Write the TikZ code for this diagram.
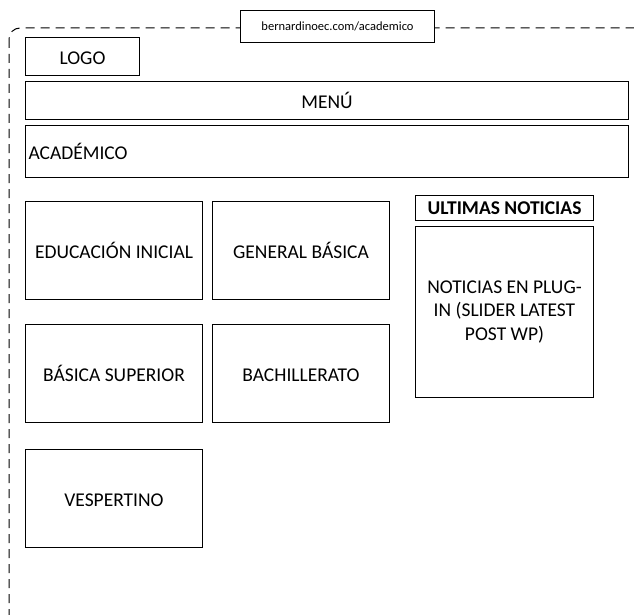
\documentclass[tikz,border=0pt]{standalone}
\usepackage{fontspec}
\setmainfont{Carlito}
\usetikzlibrary{positioning}
\tikzset{
	pagebox/.style ={rectangle, draw=black, line width=1pt, anchor=north west, inner sep=0pt, align=center, fill=white},
	oneline/.style ={text height=16pt, text depth=0pt},
	nivel/.style   ={pagebox, oneline, minimum width=177pt, minimum height=98pt},
	urlbox/.style  ={pagebox, minimum width=194pt, minimum height=32pt, font=\fontsize{12.5}{15}\selectfont},
	frame/.style   ={draw=black, line width=1pt, dash pattern=on 9pt off 6pt, rounded corners=11pt},
}

\begin{document}
\begin{tikzpicture}[x=1pt, y=-1pt, font=\fontsize{19.5}{23.5}\selectfont]
	\useasboundingbox (0,0) rectangle (634,615);
	\clip (0,0) rectangle (634,615);
	% page frame
	\draw[frame] (9,28) rectangle (660,625);
	\node[urlbox] (url) at (240,10) {bernardinoec.com/academico};
	% header
	\node[pagebox, oneline, minimum width=114pt, minimum height=38pt] (logo) at (25,37) {LOGO};
	\node[pagebox, oneline, minimum width=603pt, minimum height=38pt] (menu) at (25,81) {MENÚ};
	\node[pagebox, oneline, text width=597pt, inner xsep=3pt, align=left, minimum height=52pt] (acad) at (25,125) {ACADÉMICO};
	% niveles
	\node[nivel] (inicial)  at (25,201)  {EDUCACIÓN INICIAL};
	\node[nivel] (general)  at (212,201) {GENERAL BÁSICA};
	\node[nivel] (superior) at (25,324)  {BÁSICA SUPERIOR};
	\node[nivel] (bachi)    at (212,324) {BACHILLERATO};
	\node[nivel] (vesp)     at (25,449)  {VESPERTINO};
	% noticias
	\node[pagebox, text height=12.5pt, text depth=0pt, minimum width=178pt, minimum height=25pt, font=\fontsize{19.5}{23.5}\selectfont\bfseries] (ultimas) at (415,195) {ULTIMAS NOTICIAS};
	\node[pagebox, minimum width=178pt, minimum height=171pt] (noticias) at (415,226) {NOTICIAS EN PLUG-\\IN (SLIDER LATEST\\POST WP)};
\end{tikzpicture}
\end{document}
